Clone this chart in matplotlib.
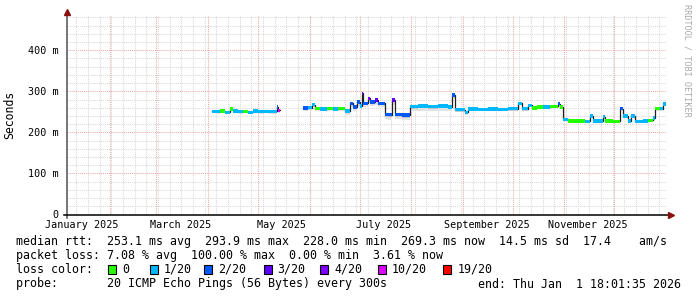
import numpy as np
import pandas as pd
import matplotlib
matplotlib.use("Agg")
import matplotlib.pyplot as plt
import matplotlib.dates as mdates
from matplotlib.patches import Rectangle

# median rtt per step (ms), loss = lost pings out of 20, smoke = spread below median (ms)
dates = ["2025-04-04", "2025-04-07", "2025-04-09", "2025-04-12", "2025-04-15", "2025-04-17",
         "2025-04-20", "2025-04-23", "2025-04-26", "2025-04-29", "2025-05-02", "2025-05-05",
         "2025-05-08", "2025-05-11", "2025-05-13", "2025-05-14", "2025-05-15",
         "2025-05-29", "2025-06-01", "2025-06-03", "2025-06-05", "2025-06-08", "2025-06-12",
         "2025-06-16", "2025-06-19", "2025-06-23", "2025-06-26", "2025-06-28", "2025-06-30",
         "2025-07-02", "2025-07-03", "2025-07-04", "2025-07-07", "2025-07-08", "2025-07-11",
         "2025-07-13", "2025-07-17", "2025-07-19", "2025-07-21", "2025-07-23", "2025-07-27",
         "2025-08-01", "2025-08-06", "2025-08-12", "2025-08-18", "2025-08-24", "2025-08-26",
         "2025-08-28", "2025-09-03", "2025-09-05", "2025-09-11", "2025-09-17", "2025-09-23",
         "2025-09-29", "2025-10-05", "2025-10-07", "2025-10-11", "2025-10-13", "2025-10-16",
         "2025-10-20", "2025-10-24", "2025-10-29", "2025-10-30", "2025-11-01", "2025-11-04",
         "2025-11-10", "2025-11-14", "2025-11-17", "2025-11-19", "2025-11-22", "2025-11-25",
         "2025-11-26", "2025-12-01", "2025-12-05", "2025-12-07", "2025-12-10", "2025-12-12",
         "2025-12-14", "2025-12-19", "2025-12-22", "2025-12-25", "2025-12-26", "2025-12-29",
         "2025-12-31", "2026-01-01 18:00"]
median_ms = [251, 250, 252, 249, 257, 252,
             250, 251, 249, 252, 250, 251,
             250, 251, 262, 254, np.nan,
             259, 260, 267, 258, 257, 258,
             257, 258, 252, 271, 262, 274,
             264, 295, 271, 283, 274, 279,
             271, 244, 243, 279, 244, 242,
             263, 264, 263, 264, 262, 291,
             255, 249, 257, 256, 257, 256,
             258, 271, 258, 266, 259, 262,
             262, 263, 270, 262, 232, 228,
             228, 227, 240, 228, 228, 238,
             228, 227, 258, 240, 228, 240,
             227, 228, 229, 235, 258, 258,
             269, np.nan]
loss = [1, 1, 0, 1, 0, 1,
        1, 0, 1, 1, 1, 1,
        1, 1, 2, 10, 0,
        2, 1, 1, 0, 1, 0,
        1, 0, 1, 2, 2, 2,
        1, 3, 2, 4, 2, 3,
        2, 2, 2, 3, 2, 2,
        1, 1, 1, 1, 1, 2,
        1, 1, 1, 1, 1, 1,
        1, 1, 1, 1, 0, 0,
        1, 0, 2, 0, 1, 0,
        0, 1, 1, 1, 1, 1,
        0, 0, 2, 1, 1, 1,
        1, 1, 0, 1, 0, 1,
        1, 0]
smoke_ms = [4, 4, 4, 4, 4, 4,
            4, 4, 4, 4, 4, 4,
            4, 6, 8, 6, 0,
            6, 5, 5, 4, 4, 4,
            4, 4, 10, 10, 10, 10,
            10, 12, 10, 12, 10, 12,
            10, 12, 12, 12, 12, 12,
            11, 11, 11, 11, 11, 10,
            6, 6, 5, 5, 5, 5,
            5, 5, 5, 5, 4, 4,
            4, 4, 4, 4, 4, 3,
            3, 3, 3, 3, 3, 3,
            3, 3, 3, 3, 3, 3,
            3, 3, 3, 3, 3, 3,
            3, 0]

loss_levels = [0, 1, 2, 3, 4, 10, 19]
loss_colors = ["#26ff00", "#00b8ff", "#0059ff", "#5e00ff", "#7e00ff", "#dd00ff", "#ff0000"]
loss_names = ["0", "1/20", "2/20", "3/20", "4/20", "10/20", "19/20"]

end = pd.Timestamp("2026-01-01 18:01:35")
start = end - pd.Timedelta(days=360)

mono = "DejaVu Sans Mono"
plt.rcParams["font.family"] = mono

fig = plt.figure(figsize=(6.97, 2.97), dpi=100)
ax = fig.add_axes([66.5 / 697, 82.5 / 297, 599.5 / 697, 200 / 297])
ax.set_xlim(mdates.date2num(start), mdates.date2num(end))
ax.set_ylim(0, 487)

# grid
dots = (0, (1, 1))
for d in pd.date_range(start, end, freq="W-SUN"):
    ax.axvline(mdates.date2num(d), color="#d8d8d8", lw=0.75, ls=dots, zorder=0)
for v in range(20, 487, 20):
    if v % 100:
        ax.axhline(v, color="#d8d8d8", lw=0.75, ls=dots, zorder=0)
for d in pd.date_range(start, end, freq="MS"):
    ax.axvline(mdates.date2num(d), color="#eeaaaa", lw=0.75, ls=dots, zorder=1)
for v in range(100, 487, 100):
    ax.axhline(v, color="#eeaaaa", lw=0.75, ls=dots, zorder=1)

x = mdates.date2num(pd.to_datetime(dates, format="mixed"))
med = np.array(median_ms, dtype=float)


def loss_color(n):
    c = loss_colors[0]
    for lv, col in zip(loss_levels, loss_colors):
        if n >= lv:
            c = col
    return c


# smoke
for i in range(len(x) - 1):
    if np.isnan(med[i]):
        continue
    w = x[i + 1] - x[i]
    ax.bar(x[i], smoke_ms[i] + 1.5, bottom=med[i] - smoke_ms[i], width=w, align="edge",
           color="#e2e2e2", linewidth=0, zorder=2)
    ax.bar(x[i], smoke_ms[i] / 2 + 1.5, bottom=med[i] - smoke_ms[i] / 2, width=w, align="edge",
           color="#c4c4c4", linewidth=0, zorder=2)

# median line
ax.step(x, med, where="post", color="#202020", lw=0.9, zorder=3)

# coloured median band
half = 4.0
for i in range(len(x) - 1):
    if np.isnan(med[i]):
        continue
    ax.bar(x[i], 2 * half, bottom=med[i] - half, width=x[i + 1] - x[i], align="edge",
           color=loss_color(loss[i]), linewidth=0, zorder=4)

# axes
for s in ["top", "right", "left", "bottom"]:
    ax.spines[s].set_visible(False)
ax.plot([0, 0], [-0.015, 1.0], transform=ax.transAxes, color="#505050", lw=1.1,
        clip_on=False, zorder=5)
ax.plot([-0.005, 1.007], [0, 0], transform=ax.transAxes, color="black", lw=1.1,
        clip_on=False, zorder=5)
ax.plot(0, 1.012, marker="^", ms=4.5, color="#8b1010", transform=ax.transAxes,
        clip_on=False, zorder=6)
ax.plot(1.008, 0, marker=">", ms=4.5, color="#8b1010", transform=ax.transAxes,
        clip_on=False, zorder=6)

ax.set_yticks([0, 100, 200, 300, 400])
ax.set_yticklabels(["0", "100 m", "200 m", "300 m", "400 m"])
label_months = ["2025-01-01", "2025-03-01", "2025-05-01", "2025-07-01", "2025-09-01", "2025-11-01"]
xt = [mdates.date2num(pd.Timestamp(m) + pd.Timedelta(days=15)) for m in label_months]
ax.set_xticks(xt)
ax.set_xticklabels([pd.Timestamp(m).strftime("%B %Y") for m in label_months])
ax.tick_params(axis="both", length=0, labelsize=7.3)
ax.tick_params(axis="y", pad=6)
ax.tick_params(axis="x", pad=4)
ax.set_ylabel("Seconds", fontsize=8.3, labelpad=8)

# watermark
fig.text(687 / 697, 1 - 4 / 297, "RRDTOOL / TOBI OETIKER", rotation=270, ha="center", va="top",
         fontsize=6.1, color="#a8a8a8")

# legend
fs = 8.4
x0 = 16 / 697
fig.text(x0, 1 - 241 / 297,
         "median rtt:  253.1 ms avg  293.9 ms max  228.0 ms min  269.3 ms now  14.5 ms sd  17.4    am/s",
         va="center", fontsize=fs)
fig.text(x0, 1 - 255.5 / 297,
         "packet loss: 7.08 % avg  100.00 % max  0.00 % min  3.61 % now",
         va="center", fontsize=fs)
fig.text(x0, 1 - 269.5 / 297, "loss color:", va="center", fontsize=fs)
box_px = [108.3, 150.0, 204.0, 263.5, 320.0, 377.7, 443.3]
for name, col, bx in zip(loss_names, loss_colors, box_px):
    fig.patches.append(Rectangle((bx / 697, 1 - 273.5 / 297), 8 / 697, 9 / 297,
                                 transform=fig.transFigure, facecolor=col,
                                 edgecolor="black", lw=0.8))
    fig.text((bx + 14) / 697, 1 - 269.5 / 297, name, va="center", fontsize=fs)
fig.text(x0, 1 - 284 / 297, "probe:       20 ICMP Echo Pings (56 Bytes) every 300s",
         va="center", fontsize=fs)
fig.text(681 / 697, 1 - 284 / 297, "end: Thu Jan  1 18:01:35 2026", va="center", ha="right",
         fontsize=fs)

fig.savefig("out.png", dpi=100, facecolor="white")
